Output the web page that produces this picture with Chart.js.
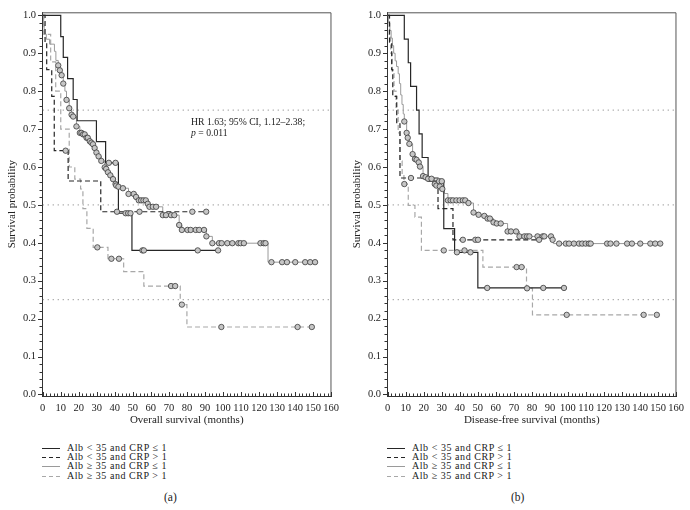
<!DOCTYPE html>
<html>
<head>
<meta charset="utf-8">
<script src="https://cdn.jsdelivr.net/npm/chart.js@4.4.0/dist/chart.umd.min.js"></script>
<style>
body { margin:0; background:#fff; width:690px; height:510px; position:relative; overflow:hidden;
       font-family:"Liberation Serif","DejaVu Serif",serif; color:#222; }
.panel { position:absolute; top:0; width:345px; height:430px; }
.legend { position:absolute; top:443px; font-size:10px; letter-spacing:0.55px; color:#222; }
.row { position:relative; height:9.2px; line-height:10px; white-space:nowrap; }
.sw { position:absolute; left:0; top:5px; width:18px; height:1px; }
.txt { position:absolute; left:25px; top:0; }
.cap { position:absolute; top:491px; font-size:11.5px; color:#222; }
.note { position:absolute; left:191px; top:117px; font-size:9.7px; line-height:10.5px; color:#222; }
</style>
</head>
<body>
<div class="panel" style="left:0"><canvas id="chartA" width="345" height="430"></canvas></div>
<div class="panel" style="left:345px"><canvas id="chartB" width="345" height="430"></canvas></div>
<div class="note">HR 1.63; 95% CI, 1.12–2.38;<br><i>p</i> = 0.011</div>
<div class="legend" id="legA" style="left:42px"></div>
<div class="legend" id="legB" style="left:387px"></div>
<div class="cap" style="left:164px">(a)</div>
<div class="cap" style="left:511px">(b)</div>
<script>
// group names
var groupNames = ["Alb < 35 and CRP \u2264 1", "Alb < 35 and CRP > 1", "Alb \u2265 35 and CRP \u2264 1", "Alb \u2265 35 and CRP > 1"];
var refLevels = [0.25, 0.5, 0.75];
var xTicks = [0, 160, 10];

// (a) overall survival - [months, survival] step points and censored marks
var osLowLowSteps = [[0,1],[10,0.944],[11.4,0.889],[13.8,0.833],[16.9,0.778],[19.1,0.722],[29.8,0.667],[34.9,0.611],[42,0.478],[49.5,0.38],[97.3,0.38]];
var osLowLowCens = [[36.7,0.611],[40.4,0.611],[46,0.478],[47.4,0.478],[48.7,0.478],[55.3,0.38],[56.1,0.38],[86,0.38],[97.3,0.38]];
var osLowHighSteps = [[0,1],[1.3,0.929],[2.2,0.857],[5,0.786],[6.4,0.643],[14.1,0.563],[32.2,0.482],[90.7,0.482]];
var osLowHighCens = [[12.7,0.643],[41.2,0.482],[53.7,0.482],[83,0.482],[90.7,0.482]];
var osHighLowSteps = [[0,1],[0.5,0.975],[0.8,0.95],[2,0.937],[3.8,0.924],[6.5,0.905],[7.3,0.881],[8.6,0.868],[9.5,0.855],[10.5,0.842],[11.4,0.82],[12.3,0.8],[13.2,0.777],[14.7,0.755],[16,0.738],[16.9,0.733],[18.7,0.707],[20.6,0.69],[22.4,0.686],[24.3,0.677],[26.1,0.668],[27,0.664],[27.9,0.66],[28.8,0.65],[29.8,0.638],[31,0.628],[32.5,0.616],[34.4,0.599],[35.2,0.595],[36.2,0.586],[37.5,0.578],[39,0.568],[40.4,0.555],[40.8,0.551],[42,0.548],[44.5,0.544],[47.6,0.529],[51.8,0.521],[53.3,0.512],[58.3,0.503],[59.2,0.495],[66.6,0.473],[75.7,0.447],[77.2,0.434],[90.8,0.417],[94.1,0.399],[125,0.349],[151.1,0.349]];
var osHighLowCens = [[8.6,0.868],[9.5,0.855],[10.5,0.842],[11.4,0.82],[13.2,0.777],[14.7,0.755],[16,0.738],[16.9,0.733],[18.7,0.707],[20.6,0.69],[21.5,0.69],[22.4,0.686],[23.3,0.686],[24.3,0.677],[25,0.677],[26.1,0.668],[27,0.664],[27.9,0.66],[28.8,0.65],[29.8,0.638],[31,0.628],[32.5,0.616],[34.4,0.599],[35.2,0.595],[36.2,0.586],[37.5,0.578],[39,0.568],[40.4,0.555],[40.8,0.551],[42,0.548],[44.5,0.544],[47.6,0.529],[50.5,0.529],[51.8,0.521],[53.3,0.512],[54.6,0.512],[55.9,0.512],[57.2,0.512],[58.3,0.503],[59.2,0.495],[61.1,0.495],[62.9,0.495],[66.6,0.473],[68.4,0.473],[71.2,0.473],[73,0.473],[75.7,0.447],[77.2,0.434],[80.3,0.434],[82.1,0.434],[84.9,0.434],[86.8,0.434],[89.5,0.434],[90.8,0.417],[94.1,0.399],[97.8,0.399],[99.3,0.399],[102.4,0.399],[105.2,0.399],[108.5,0.399],[109.8,0.399],[111.6,0.399],[120.8,0.399],[122.6,0.399],[123.6,0.399],[126.9,0.349],[132.8,0.349],[135.5,0.349],[140.1,0.349],[145.6,0.349],[148.4,0.349],[151.1,0.349]];
var osHighHighSteps = [[0,1],[0.6,0.95],[4.4,0.877],[7.2,0.8],[10,0.7],[14.7,0.6],[17.8,0.568],[21,0.542],[22.3,0.49],[24.5,0.438],[28,0.388],[36.2,0.358],[44.9,0.324],[56.1,0.286],[76.3,0.237],[80,0.178],[149.3,0.178]];
var osHighHighCens = [[30.3,0.388],[38.1,0.358],[42.3,0.358],[71.2,0.286],[73.5,0.286],[77.2,0.237],[99.1,0.178],[141.4,0.178],[149.3,0.178]];

// (b) disease-free survival
var dfLowLowSteps = [[0,1],[9.2,0.9375],[11.4,0.875],[12.7,0.8125],[16,0.75],[17.4,0.6875],[19.1,0.625],[22.4,0.5625],[31.1,0.4375],[37.1,0.375],[50,0.281],[97.8,0.281]];
var dfLowLowCens = [[28.5,0.5625],[30,0.5625],[38.4,0.375],[45.9,0.375],[55.2,0.281],[86.3,0.281],[97.8,0.281]];
var dfLowHighSteps = [[0,1],[1,0.929],[2.2,0.857],[2.8,0.786],[5,0.714],[6.8,0.571],[27.9,0.49],[36.2,0.408],[84,0.408]];
var dfLowHighCens = [[12.9,0.571],[41.7,0.408],[48.6,0.408],[50.1,0.408],[84,0.408]];
var dfHighLowSteps = [[0,1],[0.5,0.98],[1.2,0.96],[1.9,0.94],[2.6,0.92],[3.3,0.9],[4.1,0.88],[4.9,0.865],[5.8,0.846],[6.5,0.82],[7.2,0.79],[7.9,0.765],[8.6,0.74],[9.2,0.72],[10.5,0.69],[11.1,0.677],[12,0.661],[13.8,0.634],[15.1,0.621],[16,0.619],[17.2,0.612],[17.9,0.601],[19.6,0.576],[21,0.573],[22.4,0.569],[26.1,0.555],[27,0.551],[28.9,0.549],[30.3,0.542],[31.5,0.53],[33.4,0.512],[44.8,0.505],[47.6,0.48],[50.4,0.474],[53.6,0.471],[55.4,0.464],[58.7,0.454],[60.5,0.451],[66.5,0.43],[73.1,0.417],[91.5,0.408],[91.9,0.398],[151.2,0.398]];
var dfHighLowCens = [[9.2,0.72],[10.5,0.69],[11.1,0.677],[12,0.661],[13.8,0.634],[15.1,0.621],[16,0.619],[17.2,0.612],[17.9,0.601],[19.6,0.576],[21,0.573],[22.4,0.569],[24.3,0.569],[26.1,0.555],[27,0.551],[28.9,0.549],[30.3,0.542],[33.4,0.512],[34.9,0.512],[36.2,0.512],[38.1,0.512],[39.9,0.512],[41.7,0.512],[43,0.512],[44.8,0.505],[47.6,0.48],[50.4,0.474],[53.6,0.471],[55.4,0.464],[56.7,0.464],[58.7,0.454],[60.5,0.451],[62.7,0.451],[66.5,0.43],[68.4,0.43],[71.2,0.43],[73.1,0.417],[75.8,0.417],[77.3,0.417],[78.6,0.417],[83.1,0.417],[86,0.417],[86.9,0.417],[90.6,0.417],[91.5,0.408],[95.1,0.398],[98.8,0.398],[100.6,0.398],[103.3,0.398],[106.1,0.398],[107.9,0.398],[109.8,0.398],[111.6,0.398],[112.6,0.398],[121.7,0.398],[123.6,0.398],[126.9,0.398],[132.8,0.398],[135.5,0.398],[140.1,0.398],[145.7,0.398],[148.4,0.398],[151.2,0.398]];
var dfHighHighSteps = [[0,1],[0.8,0.95],[1.6,0.9],[2.5,0.85],[3.5,0.8],[4.6,0.75],[5.8,0.69],[6.8,0.616],[8,0.58],[9,0.555],[11.4,0.499],[15.1,0.468],[18.7,0.38],[52.8,0.336],[77,0.28],[80.3,0.21],[149.3,0.21]];
var dfHighHighCens = [[9.2,0.555],[31.1,0.38],[42.6,0.38],[71.5,0.336],[74.3,0.336],[77.3,0.28],[99.3,0.21],[142,0.21],[149.3,0.21]];

var lineStyles = [
	{ color: "#262626", dash: [], width: 1.2 },
	{ color: "#262626", dash: [5, 3], width: 1.2 },
	{ color: "#9a9a9a", dash: [], width: 1 },
	{ color: "#a8a8a8", dash: [5, 3], width: 1.2 }
];

function toXY(arr) {
	return arr.map(function (p) { return { x: p[0], y: p[1] }; });
}

// frame + small minor ticks, placed with the chart's own scales
var framePlugin = {
	id: "frame",
	afterDraw: function (chart) {
		var ctx = chart.ctx, a = chart.chartArea;
		var xs = chart.scales.x, ys = chart.scales.y;
		ctx.save();
		ctx.strokeStyle = "#555";
		ctx.lineWidth = 1;
		ctx.beginPath();
		ctx.moveTo(a.left, a.top + 0.5);
		ctx.lineTo(a.right - 0.5, a.top + 0.5);
		ctx.lineTo(a.right - 0.5, a.bottom);
		ctx.stroke();
		ctx.strokeStyle = "#333";
		ctx.beginPath();
		for (var m = 0; m <= 160; m += 2) {
			var px = Math.round(xs.getPixelForValue(m)) + 0.5;
			ctx.moveTo(px, a.bottom);
			ctx.lineTo(px, a.bottom - (m % 10 === 0 ? 4 : 2.5));
		}
		for (var k = 0; k <= 50; k++) {
			var py = Math.round(ys.getPixelForValue(k / 50)) + 0.5;
			ctx.moveTo(a.left, py);
			ctx.lineTo(a.left - (k % 5 === 0 ? 4 : 2.5), py);
		}
		ctx.stroke();
		ctx.restore();
	}
};

function makeChart(id, series, xTitle) {
	var datasets = [];
	series.forEach(function (s, i) {
		datasets.push({
			type: "scatter", data: toXY(s[1]), order: 0, showLine: false,
			pointRadius: 2.7, pointBackgroundColor: "#c6c6c6", pointBorderColor: "#3a3a3a", pointBorderWidth: 0.8
		});
		datasets.push({
			type: "line", data: toXY(s[0]), order: 1, stepped: true, fill: false, pointRadius: 0,
			borderColor: lineStyles[i].color, borderDash: lineStyles[i].dash, borderWidth: lineStyles[i].width
		});
	});
	refLevels.forEach(function (lvl) {
		datasets.push({
			type: "line", data: [{ x: xTicks[0], y: lvl }, { x: xTicks[1], y: lvl }], order: 2,
			borderColor: "#777", borderDash: [1, 4], borderWidth: 1, pointRadius: 0, fill: false
		});
	});
	return new Chart(document.getElementById(id), {
		type: "scatter",
		data: { datasets: datasets },
		options: {
			responsive: false,
			animation: false,
			layout: { padding: { left: 0, right: 12, top: 8, bottom: 0 } },
			plugins: { legend: { display: false }, tooltip: { enabled: false } },
			scales: {
				x: {
					type: "linear", min: -0.4, max: 160.2,
					grid: { display: false, drawTicks: false },
					border: { display: true, color: "#333" },
					ticks: { stepSize: xTicks[2], includeBounds: false, autoSkip: false, maxRotation: 0, padding: 6,
						color: "#222", font: { family: "Liberation Serif", size: 10.5 } },
					title: { display: true, text: xTitle, color: "#222", padding: { top: 0, bottom: 3 },
						font: { family: "Liberation Serif", size: 11 } },
					afterFit: function (s) { s.height = 34; }
				},
				y: {
					type: "linear", min: -0.004, max: 1.008,
					grid: { display: false, drawTicks: false },
					border: { display: true, color: "#333" },
					ticks: { stepSize: 0.1, includeBounds: false, padding: 6, color: "#222",
						font: { family: "Liberation Serif", size: 10.5 },
						callback: function (v) { return Number(v).toFixed(1); } },
					title: { display: true, text: "Survival probability", color: "#222", padding: { top: 6, bottom: 0 },
						font: { family: "Liberation Serif", size: 11 } },
					afterFit: function (s) { s.width = 42; }
				}
			}
		},
		plugins: [framePlugin]
	});
}

function makeLegend(id) {
	var box = document.getElementById(id);
	groupNames.forEach(function (name, i) {
		var st = lineStyles[i];
		var row = document.createElement("div");
		row.className = "row";
		var sw = document.createElement("div");
		sw.className = "sw";
		if (st.dash.length) {
			sw.style.background = "repeating-linear-gradient(90deg," + st.color + " 0 4px, transparent 4px 7px)";
		} else {
			sw.style.background = st.color;
		}
		var tx = document.createElement("div");
		tx.className = "txt";
		tx.textContent = name;
		row.appendChild(sw);
		row.appendChild(tx);
		box.appendChild(row);
	});
}

makeChart("chartA", [
	[osLowLowSteps, osLowLowCens], [osLowHighSteps, osLowHighCens],
	[osHighLowSteps, osHighLowCens], [osHighHighSteps, osHighHighCens]
], "Overall survival (months)");
makeChart("chartB", [
	[dfLowLowSteps, dfLowLowCens], [dfLowHighSteps, dfLowHighCens],
	[dfHighLowSteps, dfHighLowCens], [dfHighHighSteps, dfHighHighCens]
], "Disease-free survival (months)");
makeLegend("legA");
makeLegend("legB");
</script>
</body>
</html>
